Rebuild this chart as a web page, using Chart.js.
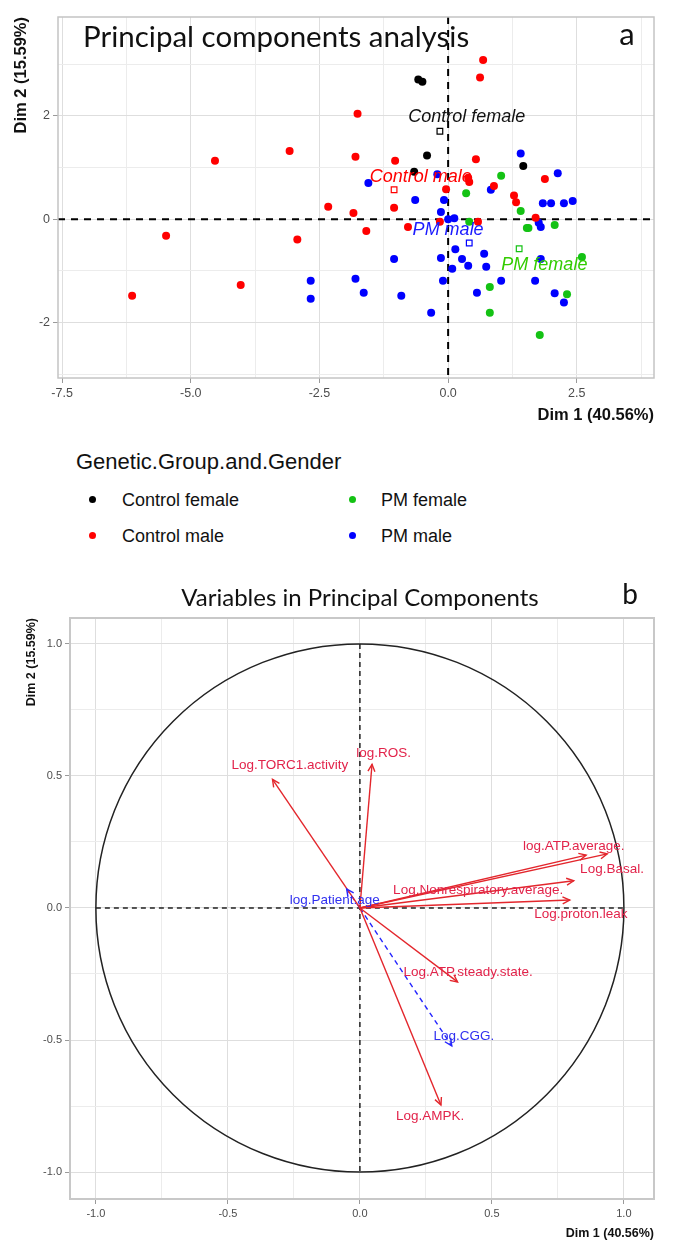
<!DOCTYPE html>
<html>
<head>
<meta charset="utf-8">
<script src="https://cdn.jsdelivr.net/npm/chart.js@4.4.0/dist/chart.umd.min.js"></script>
<style>
  body { margin: 0; background: #fff; width: 675px; height: 1249px; position: relative; overflow: hidden;
         font-family: "Liberation Sans", Arial, sans-serif; }
  #wrapA { position: absolute; left: 0; top: 0; width: 675px; height: 430px; }
  #wrapB { position: absolute; left: 0; top: 560px; width: 675px; height: 689px; }
  #legend { position: absolute; left: 0; top: 440px; width: 675px; height: 115px; color: #111; }
  #legend .ttl { position: absolute; left: 76px; top: 9px; font-size: 22px; line-height: 26px; }
  #legend .it { position: absolute; font-size: 18px; line-height: 22px; }
  #legend .dot { position: absolute; width: 7px; height: 7px; border-radius: 50%; }
</style>
</head>
<body>
<div id="wrapA"><canvas id="indCanvas" width="675" height="430"></canvas></div>
<div id="legend"></div>
<div id="wrapB"><canvas id="varCanvas" width="675" height="689"></canvas></div>
<script>
// ---------- panel a : individuals ----------
const groupNames = ['Control female', 'Control male', 'PM female', 'PM male'];
const groupColors = ['#000000', '#ff0000', '#14c214', '#0000ff'];
const labelColors = ['#111111', '#ff0000', '#33cc00', '#1a1aff'];

const ctrlFemaleX = [-0.58, -0.5, -0.41, -0.66, 1.46];
const ctrlFemaleY = [2.7, 2.66, 1.23, 0.92, 1.03];

const ctrlMaleX = [-6.14, -5.48, -4.53, -4.03, -3.08, -2.93, -2.33, -1.76, -1.8, -1.03, -1.84, -1.05, -1.59, -0.78,
  -0.16, -0.04, 0.68, 0.62, 0.54, 0.39, 0.41, 0.89, 1.28, 1.32, 1.88, 1.7, 0.58];
const ctrlMaleY = [-1.48, -0.32, 1.13, -1.27, 1.32, -0.39, 0.24, 2.04, 1.21, 1.13, 0.12, 0.22, -0.23, -0.15,
  -0.05, 0.58, 3.08, 2.74, 1.16, 0.8, 0.72, 0.64, 0.46, 0.33, 0.78, 0.03, -0.05];

const pmFemaleX = [1.03, 0.35, 1.41, 1.53, 1.56, 2.07, 0.41, 2.6, 0.81, 2.31, 0.81, 1.78];
const pmFemaleY = [0.84, 0.5, 0.16, -0.17, -0.17, -0.11, -0.05, -0.73, -1.31, -1.45, -1.81, -2.24];

const pmMaleX = [1.41, -0.21, 2.13, -1.55, 0.83, -0.64, -0.08, -0.14, 1.84, 2.0, 2.25, 2.42, 0.0, 0.12, 1.76, 1.8,
  0.14, 0.7, -1.05, -0.14, 0.27, 0.39, 0.74, 0.08, 1.8, -1.8, -1.64, -0.91, -0.1, 1.03, 0.56, 1.69, 2.07, 2.25,
  -0.33, -2.67, -2.67];
const pmMaleY = [1.27, 0.87, 0.89, 0.7, 0.57, 0.37, 0.37, 0.14, 0.31, 0.31, 0.31, 0.35, 0.0, 0.02, -0.07, -0.15,
  -0.58, -0.67, -0.77, -0.75, -0.77, -0.9, -0.92, -0.96, -0.77, -1.15, -1.42, -1.48, -1.19, -1.19, -1.42, -1.19,
  -1.43, -1.61, -1.81, -1.19, -1.54];

// group centres (open squares) and where their labels sit
const meanX = [-0.16, -1.05, 1.38, 0.41];
const meanY = [1.7, 0.57, -0.57, -0.46];
const meanLabelX = [0.36, -0.53, 1.87, 0.0];
const meanLabelY = [1.97, 0.82, -0.88, -0.21];

const xGridA = [-7.5, -6.25, -5, -3.75, -2.5, -1.25, 0, 1.25, 2.5, 3.75];
const xMajorA = [-7.5, -5, -2.5, 0, 2.5];
const yGridA = [-3, -2, -1, 0, 1, 2, 3];
const yMajorA = [-2, 0, 2];

// ---------- panel b : variables ----------
const varNames = ['log.ROS.', 'Log.TORC1.activity', 'log.ATP.average.', 'Log.Basal.',
  'Log.Nonrespiratory.average.', 'Log.proton.leak', 'Log.ATP.steady.state.', 'Log.AMPK.'];
const varX = [0.046, -0.331, 0.857, 0.937, 0.81, 0.795, 0.37, 0.307];
const varY = [0.544, 0.487, 0.20, 0.205, 0.103, 0.03, -0.28, -0.746];
const varLabelX = [0.09, -0.265, 0.81, 0.955, 0.448, 0.837, 0.41, 0.266];
const varLabelY = [0.587, 0.54, 0.235, 0.148, 0.068, -0.023, -0.243, -0.79];

const suppNames = ['log.Patient.age', 'Log.CGG.'];
const suppX = [-0.05, 0.348];
const suppY = [0.072, -0.522];
const suppLabelX = [-0.095, 0.394];
const suppLabelY = [0.03, -0.485];

const gridB = [-1, -0.75, -0.5, -0.25, 0, 0.25, 0.5, 0.75, 1];
const majorB = [-1, -0.5, 0, 0.5, 1];

Chart.defaults.font.family = '"Liberation Sans", Arial, sans-serif';
Chart.defaults.animation = false;

function zip(xs, ys) {
  return xs.map((x, i) => ({ x: x, y: ys[i] }));
}

function gridScale(gridVals, majorVals, fmt, size, fixed) {
  return {
    afterBuildTicks: s => { s.ticks = gridVals.map(v => ({ value: v })); },
    ticks: {
      callback: v => majorVals.includes(v) ? fmt(v) : '',
      color: '#4d4d4d', font: { size: size }, padding: 3, autoSkip: false, maxRotation: 0
    },
    grid: {
      color: c => majorVals.includes(c.tick && c.tick.value) ? '#dedede' : '#ececec',
      tickColor: c => majorVals.includes(c.tick && c.tick.value) ? '#9a9a9a' : 'rgba(0,0,0,0)',
      tickLength: 5, lineWidth: 1
    },
    border: { display: false },
    afterFit: fixed
  };
}

function panelBorder(chart, color, w) {
  const a = chart.chartArea, ctx = chart.ctx;
  ctx.save();
  ctx.strokeStyle = color;
  ctx.lineWidth = w;
  ctx.strokeRect(a.left, a.top, a.right - a.left, a.bottom - a.top);
  ctx.restore();
}

// ---- chart a ----
const indData = [zip(ctrlFemaleX, ctrlFemaleY), zip(ctrlMaleX, ctrlMaleY), zip(pmFemaleX, pmFemaleY), zip(pmMaleX, pmMaleY)];
const dsA = groupNames.map((g, i) => ({
  label: g, data: indData[i], backgroundColor: groupColors[i], borderWidth: 0, pointRadius: 4
}));
groupNames.forEach((g, i) => dsA.push({
  label: g + ' centre', data: [{ x: meanX[i], y: meanY[i] }], pointStyle: 'rect', pointRadius: 4,
  backgroundColor: 'rgba(255,255,255,0)', borderColor: groupColors[i], borderWidth: 1.2
}));

const indPlugin = {
  id: 'indPlugin',
  beforeDatasetsDraw(chart) {
    const { ctx, chartArea: a, scales: { x, y } } = chart;
    ctx.save();
    ctx.strokeStyle = '#000';
    ctx.lineWidth = 2;
    ctx.setLineDash([7, 6]);
    const y0 = y.getPixelForValue(0), x0 = x.getPixelForValue(0);
    ctx.beginPath(); ctx.moveTo(a.left, y0); ctx.lineTo(a.right, y0); ctx.stroke();
    ctx.beginPath(); ctx.moveTo(x0, a.top); ctx.lineTo(x0, a.bottom); ctx.stroke();
    ctx.restore();
  },
  afterDraw(chart) {
    const { ctx, scales: { x, y } } = chart;
    panelBorder(chart, '#c4c4c4', 1.5);
    ctx.save();
    ctx.fillStyle = '#111';
    ctx.textBaseline = 'middle';
    ctx.font = '29.5px Lato, "DejaVu Sans", sans-serif';
    ctx.fillText('Principal components analysis', 83, 37);
    ctx.font = '31px Lato, "DejaVu Sans", sans-serif';
    ctx.textAlign = 'center';
    ctx.fillText('a', 627, 35);
    ctx.font = 'italic 18px "Liberation Sans", Arial, sans-serif';
    groupNames.forEach((g, i) => {
      ctx.fillStyle = labelColors[i];
      ctx.fillText(g, x.getPixelForValue(meanLabelX[i]), y.getPixelForValue(meanLabelY[i]));
    });
    ctx.restore();
  }
};

new Chart(document.getElementById('indCanvas'), {
  type: 'scatter',
  data: { datasets: dsA },
  options: {
    responsive: false,
    layout: { padding: { left: 12, top: 17, right: 21, bottom: 5 } },
    plugins: { legend: { display: false }, tooltip: { enabled: false } },
    scales: {
      x: Object.assign(gridScale(xGridA, xMajorA, v => v.toFixed(1), 12.5, s => { s.height = 47; }), {
        min: -7.58, max: 4.0,
        title: { display: true, text: 'Dim 1 (40.56%)', align: 'end', color: '#111',
                 font: { size: 16.5, weight: 'bold' }, padding: 0 }
      }),
      y: Object.assign(gridScale(yGridA, yMajorA, v => String(v), 12.5, s => { s.width = 46; }), {
        min: -3.07, max: 3.91,
        title: { display: true, text: 'Dim 2 (15.59%)', align: 'end', color: '#111',
                 font: { size: 16.5, weight: 'bold' }, padding: 0 }
      })
    }
  },
  plugins: [indPlugin]
});

// ---- legend of panel a ----
const legendRows = [[0, 2], [1, 3]];
const legend = document.getElementById('legend');
legend.innerHTML = '<div class="ttl">Genetic.Group.and.Gender</div>';
legendRows.forEach((row, r) => {
  row.forEach((gi, c) => {
    const top = 49 + r * 36;
    const dotX = c === 0 ? 89 : 349;
    const txtX = c === 0 ? 122 : 381;
    legend.insertAdjacentHTML('beforeend',
      '<div class="dot" style="left:' + dotX + 'px;top:' + (top + 7) + 'px;background:' + groupColors[gi] + '"></div>' +
      '<div class="it" style="left:' + txtX + 'px;top:' + top + 'px">' + groupNames[gi] + '</div>');
  });
});

// ---- chart b ----
const dsB = [];
varNames.forEach((n, i) => dsB.push({
  label: n, data: [{ x: 0, y: 0 }, { x: varX[i], y: varY[i] }], showLine: true, pointRadius: 0,
  borderColor: '#e3262c', borderWidth: 1.4
}));
suppNames.forEach((n, i) => dsB.push({
  label: n, data: [{ x: 0, y: 0 }, { x: suppX[i], y: suppY[i] }], showLine: true, pointRadius: 0,
  borderColor: '#2424ff', borderWidth: 1.4, borderDash: [5, 4]
}));

const varPlugin = {
  id: 'varPlugin',
  beforeDatasetsDraw(chart) {
    const { ctx, scales: { x, y } } = chart;
    const cx = x.getPixelForValue(0), cy = y.getPixelForValue(0);
    const rx = x.getPixelForValue(1) - cx, ry = cy - y.getPixelForValue(1);
    ctx.save();
    ctx.strokeStyle = '#222';
    ctx.lineWidth = 1.5;
    ctx.beginPath(); ctx.ellipse(cx, cy, rx, ry, 0, 0, Math.PI * 2); ctx.stroke();
    ctx.setLineDash([5, 4]);
    ctx.beginPath(); ctx.moveTo(x.getPixelForValue(-1), cy); ctx.lineTo(x.getPixelForValue(1), cy); ctx.stroke();
    ctx.beginPath(); ctx.moveTo(cx, y.getPixelForValue(1)); ctx.lineTo(cx, y.getPixelForValue(-1)); ctx.stroke();
    ctx.restore();
  },
  afterDatasetsDraw(chart) {
    const { ctx, scales: { x, y } } = chart;
    const ox = x.getPixelForValue(0), oy = y.getPixelForValue(0);
    ctx.save();
    ctx.lineWidth = 1.4;
    chart.data.datasets.forEach(ds => {
      const tip = ds.data[1];
      const tx = x.getPixelForValue(tip.x), ty = y.getPixelForValue(tip.y);
      const ang = Math.atan2(ty - oy, tx - ox);
      ctx.strokeStyle = ds.borderColor;
      ctx.setLineDash([]);
      ctx.beginPath();
      ctx.moveTo(tx - 8 * Math.cos(ang - 0.45), ty - 8 * Math.sin(ang - 0.45));
      ctx.lineTo(tx, ty);
      ctx.lineTo(tx - 8 * Math.cos(ang + 0.45), ty - 8 * Math.sin(ang + 0.45));
      ctx.stroke();
    });
    ctx.textAlign = 'center';
    ctx.textBaseline = 'middle';
    ctx.font = '13.5px "Liberation Sans", Arial, sans-serif';
    ctx.fillStyle = '#e2234a';
    varNames.forEach((n, i) => ctx.fillText(n, x.getPixelForValue(varLabelX[i]), y.getPixelForValue(varLabelY[i])));
    ctx.fillStyle = '#3030f0';
    suppNames.forEach((n, i) => ctx.fillText(n, x.getPixelForValue(suppLabelX[i]), y.getPixelForValue(suppLabelY[i])));
    ctx.restore();
  },
  afterDraw(chart) {
    const ctx = chart.ctx;
    panelBorder(chart, '#c8c8c8', 2);
    ctx.save();
    ctx.fillStyle = '#111';
    ctx.textAlign = 'center';
    ctx.textBaseline = 'middle';
    ctx.font = '24px Lato, "DejaVu Sans", sans-serif';
    ctx.fillText('Variables in Principal Components', 360, 38);
    ctx.font = '28px Lato, "DejaVu Sans", sans-serif';
    ctx.fillText('b', 630, 35);
    ctx.restore();
  }
};

new Chart(document.getElementById('varCanvas'), {
  type: 'scatter',
  data: { datasets: dsB },
  options: {
    responsive: false,
    layout: { padding: { left: 24, top: 58, right: 21, bottom: 8 } },
    plugins: { legend: { display: false }, tooltip: { enabled: false } },
    scales: {
      x: Object.assign(gridScale(gridB, majorB, v => v.toFixed(1), 11, s => { s.height = 42; }), {
        min: -1.098, max: 1.114,
        title: { display: true, text: 'Dim 1 (40.56%)', align: 'end', color: '#111',
                 font: { size: 12.5, weight: 'bold' }, padding: 0 }
      }),
      y: Object.assign(gridScale(gridB, majorB, v => v.toFixed(1), 11, s => { s.width = 46; }), {
        min: -1.102, max: 1.098,
        title: { display: true, text: 'Dim 2 (15.59%)', align: 'end', color: '#111',
                 font: { size: 12.5, weight: 'bold' }, padding: 0 }
      })
    }
  },
  plugins: [varPlugin]
});
</script>
</body>
</html>
